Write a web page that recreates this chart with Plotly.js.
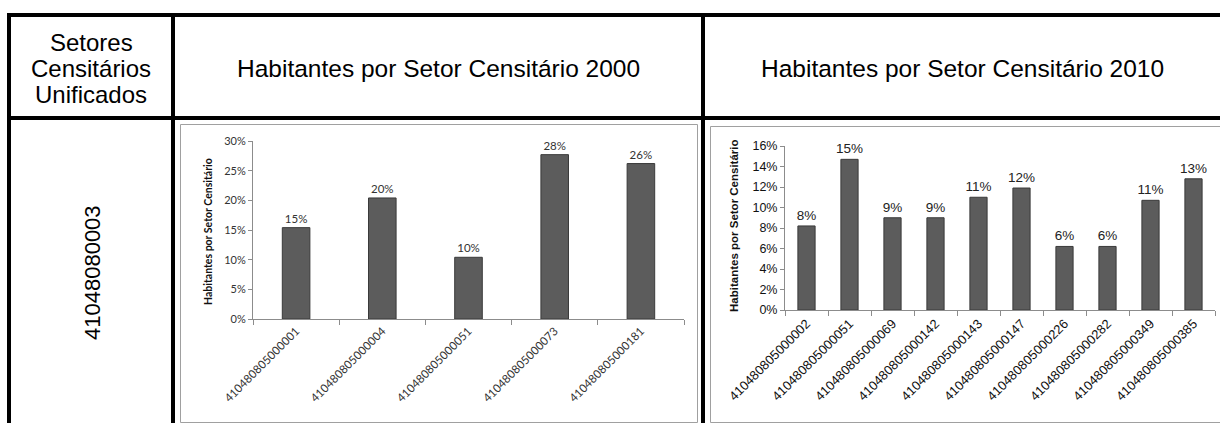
<!DOCTYPE html>
<html><head><meta charset="utf-8">
<script src="https://cdn.plot.ly/plotly-3.0.1.min.js"></script>
<style>html,body{margin:0;padding:0;background:#fff}#chart{width:1220px;height:423px}</style>
</head><body><div id="chart"></div>
<script>
// ---- data ----
const sectors2000 = ['410480805000001','410480805000004','410480805000051','410480805000073','410480805000181'];
const share2000 = [0.154, 0.204, 0.104, 0.277, 0.262];
const sectors2010 = ['410480805000002','410480805000051','410480805000069','410480805000142','410480805000143','410480805000147','410480805000226','410480805000282','410480805000349','410480805000385'];
const share2010 = [0.082, 0.147, 0.090, 0.090, 0.110, 0.119, 0.062, 0.062, 0.107, 0.128];
const yTicks2000 = [0, 0.05, 0.10, 0.15, 0.20, 0.25, 0.30];
const yTicks2010 = [0, 0.02, 0.04, 0.06, 0.08, 0.10, 0.12, 0.14, 0.16];
const headerCol1 = ['Setores', 'Censitários', 'Unificados'];
const header2000 = 'Habitantes por Setor Censitário 2000';
const header2010 = 'Habitantes por Setor Censitário 2010';
const unifiedSector = '41048080003';
const yTitle = 'Habitantes por Setor Censitário';

// ---- layout helpers (pixel -> paper) ----
const W = 1220, H = 423;
const X = p => p / W, Y = p => 1 - p / H;

const barColor = '#5c5c5c', barLine = '#3a3a3a';
const f1 = 'Lato, sans-serif';
const f2 = 'Liberation Sans, Arial, sans-serif';

const traces = [
  {type:'bar', x:sectors2000, y:share2000, xaxis:'x', yaxis:'y', width:0.32,
   marker:{color:barColor, line:{color:barLine, width:1}},
   texttemplate:'%{y:.0%}', textposition:'outside', cliponaxis:false, constraintext:'none',
   textfont:{family:f1, size:11.5, color:'#333'}, hoverinfo:'x+y'},
  {type:'bar', x:sectors2010, y:share2010, xaxis:'x2', yaxis:'y2', width:0.40,
   marker:{color:barColor, line:{color:barLine, width:1}},
   texttemplate:'%{y:.0%}', textposition:'outside', cliponaxis:false, constraintext:'none',
   textfont:{family:f2, size:13.5, color:'#222'}, hoverinfo:'x+y'}
];

function xAx(domain, anchor, font, size, color){
  return {domain:domain, anchor:anchor, type:'category', showline:true, linecolor:'#8c8c8c', linewidth:1,
    ticks:'outside', tickson:'boundaries', ticklen:5, tickcolor:'#8c8c8c',
    tickangle:-45, tickfont:{family:font, size:size, color:color},
    showgrid:false, zeroline:false, fixedrange:true};
}
function yAx(domain, anchor, range, vals, font, size, color){
  return {domain:domain, anchor:anchor, range:range, tickvals:vals, tickformat:'.0%',
    showline:true, linecolor:'#8c8c8c', linewidth:1, ticks:'outside', ticklen:4, tickcolor:'#8c8c8c',
    tickfont:{family:font, size:size, color:color}, showgrid:false, zeroline:false, fixedrange:true};
}

function rect(x0,y0,x1,y1,fill,line){
  return {type:'rect', xref:'paper', yref:'paper', x0:X(x0), x1:X(x1), y0:Y(y1), y1:Y(y0),
    fillcolor:fill||'rgba(0,0,0,0)', line:line||{width:0}, layer:'above'};
}
const shapes = [
  rect(180.5,124.5,697.5,422.5,null,{color:'#a0a0a0',width:1}),
  rect(710.5,126.5,1230,422.5,null,{color:'#a0a0a0',width:1}),
  rect(7,13,1220,17,'#000'),
  rect(7,116,1220,120,'#000'),
  rect(7,13,11,423,'#000'),
  rect(171,13,175,423,'#000'),
  rect(701,13,705,423,'#000')
];

const hf = {family:f2, size:24, color:'#000'};
function txt(t,x,y,font,angle){
  return {text:t, x:X(x), y:Y(y), xref:'paper', yref:'paper', showarrow:false, font:font,
    textangle:angle||0, xanchor:'center', yanchor:'middle'};
}
const annotations = [
  txt(headerCol1[0], 91, 42, hf),
  txt(headerCol1[1], 91, 68, hf),
  txt(headerCol1[2], 91, 94, hf),
  txt(header2000, 438, 68, {family:f2, size:24.5, color:'#000'}),
  txt(header2010, 962, 68, {family:f2, size:24.5, color:'#000'}),
  txt(unifiedSector, 92, 273, {family:f2, size:22, color:'#000'}, -90),
  txt('<b>'+yTitle+'</b>', 208, 232, {family:f1, size:10.5, color:'#111'}, -90),
  txt('<b>'+yTitle+'</b>', 734, 226, {family:f2, size:11.5, color:'#111'}, -90)
];

const layout = {
  width:W, height:H, margin:{l:0,r:0,t:0,b:0}, paper_bgcolor:'#fff', plot_bgcolor:'rgba(0,0,0,0)',
  showlegend:false,
  xaxis:xAx([X(253), X(684)], 'y', f1, 11.5, '#333'),
  yaxis:yAx([Y(319), Y(141)], 'x', [0, 0.30], yTicks2000, f1, 11, '#333'),
  xaxis2:xAx([X(785), X(1215)], 'y2', f2, 13, '#111'),
  yaxis2:yAx([Y(310), Y(146)], 'x2', [0, 0.16], yTicks2010, f2, 12.5, '#111'),
  shapes:shapes, annotations:annotations
};

Plotly.newPlot('chart', traces, layout, {displayModeBar:false, staticPlot:true});
</script></body></html>
